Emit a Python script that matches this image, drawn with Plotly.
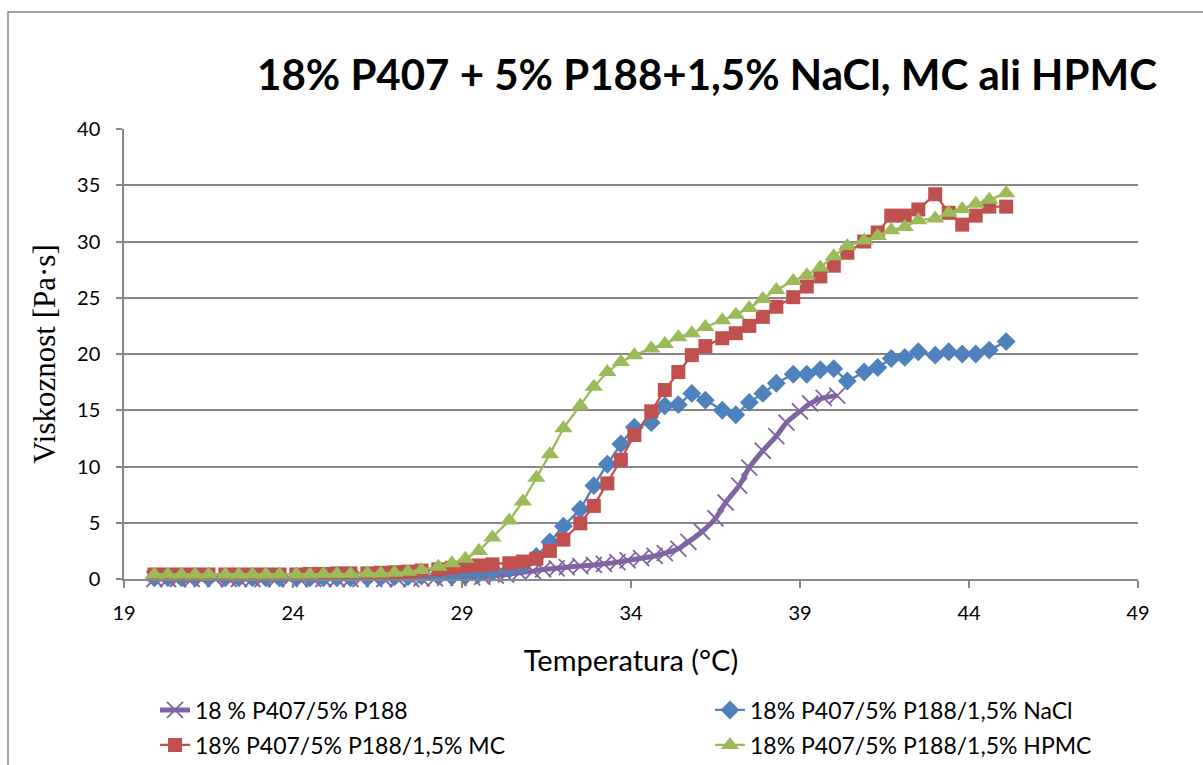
import plotly.graph_objects as go

# ---------------- data ----------------
temps = [19.9, 20.3, 20.7, 21.1, 21.5, 22.0, 22.4, 22.8, 23.2, 23.6,
         24.1, 24.5, 24.9, 25.3, 25.7, 26.2, 26.6, 27.0, 27.4, 27.8,
         28.3, 28.7, 29.1, 29.5, 29.9, 30.4, 30.8, 31.2, 31.6, 32.0,
         32.5, 32.9, 33.3, 33.7, 34.1, 34.6, 35.0, 35.4, 35.8, 36.2,
         36.7, 37.1, 37.5, 37.9, 38.3, 38.8, 39.2, 39.6, 40.0, 40.4,
         40.9, 41.3, 41.7, 42.1, 42.5, 43.0, 43.4, 43.8, 44.2, 44.6,
         45.1]

temps_p188 = [19.9, 20.3, 20.6, 21.0, 21.3, 21.7, 22.1, 22.4, 22.8, 23.1,
              23.5, 23.9, 24.2, 24.6, 24.9, 25.3, 25.7, 26.0, 26.4, 26.7,
              27.1, 27.5, 27.8, 28.2, 28.5, 28.9, 29.3, 29.6, 30.0, 30.3,
              30.7, 31.1, 31.4, 31.8, 32.1, 32.5, 32.9, 33.2, 33.6, 33.9,
              34.3, 34.7, 35.0, 35.4, 35.7, 36.1, 36.5, 36.8, 37.2, 37.5,
              37.9, 38.3, 38.6, 39.0, 39.3, 39.7, 40.1]

visc_p188 = [0.0, 0.0, 0.0, 0.0, 0.0, 0.0, 0.0, 0.0, 0.0, 0.0,
             0.0, 0.0, 0.0, 0.0, 0.0, 0.0, 0.0, 0.0, 0.0, 0.0,
             0.0, 0.0, 0.05, 0.05, 0.1, 0.1, 0.15, 0.2, 0.3, 0.4,
             0.55, 0.7, 0.85, 0.95, 1.05, 1.15, 1.25, 1.35, 1.5, 1.65,
             1.85, 2.05, 2.3, 2.7, 3.3, 4.2, 5.4, 6.8, 8.3, 9.9,
             11.4, 12.7, 13.9, 14.9, 15.6, 16.1, 16.3]

visc_nacl = [0.1, 0.1, 0.1, 0.1, 0.1, 0.1, 0.1, 0.1, 0.1, 0.1,
             0.1, 0.1, 0.1, 0.1, 0.1, 0.15, 0.15, 0.2, 0.2, 0.25,
             0.25, 0.3, 0.35, 0.45, 0.6, 0.85, 1.2, 2.0, 3.3, 4.7,
             6.2, 8.3, 10.2, 12.0, 13.5, 13.9, 15.4, 15.5, 16.5, 15.9,
             15.0, 14.6, 15.7, 16.5, 17.4, 18.2, 18.2, 18.6, 18.7, 17.6,
             18.4, 18.8, 19.6, 19.7, 20.2, 19.9, 20.2, 20.0, 20.0, 20.35,
             21.1]

visc_mc = [0.4, 0.4, 0.4, 0.4, 0.4, 0.4, 0.4, 0.4, 0.4, 0.4,
           0.4, 0.45, 0.45, 0.5, 0.5, 0.5, 0.55, 0.6, 0.65, 0.75,
           0.86, 1.0, 1.15, 1.2, 1.3, 1.4, 1.55, 1.8, 2.5, 3.5,
           4.95, 6.5, 8.5, 10.6, 12.8, 14.9, 16.8, 18.4, 19.9, 20.7,
           21.4, 21.85, 22.5, 23.3, 24.2, 25.05, 26.0, 26.9, 27.85, 29.0,
           30.0, 30.8, 32.3, 32.3, 32.85, 34.2, 32.55, 31.5, 32.3, 33.1,
           33.1]

visc_hpmc = [0.4, 0.4, 0.4, 0.4, 0.4, 0.4, 0.4, 0.4, 0.4, 0.4,
             0.4, 0.4, 0.45, 0.45, 0.45, 0.5, 0.5, 0.55, 0.65, 0.8,
             1.1, 1.4, 1.8, 2.5, 3.7, 5.2, 6.9, 9.0, 11.1, 13.4,
             15.4, 17.1, 18.4, 19.3, 19.9, 20.5, 20.9, 21.5, 21.85, 22.4,
             23.0, 23.5, 24.1, 24.9, 25.7, 26.5, 27.0, 27.7, 28.7, 29.6,
             30.1, 30.5, 31.0, 31.3, 31.9, 32.05, 32.55, 32.9, 33.35, 33.7,
             34.3]

names = ["18 % P407/5% P188",
         "18% P407/5% P188/1,5% NaCl",
         "18% P407/5% P188/1,5% MC",
         "18% P407/5% P188/1,5% HPMC"]

title_text = "18% P407 + 5% P188+1,5% NaCl, MC ali HPMC"
x_title = "Temperatura (°C)"
y_title = "Viskoznost [Pa·s]"

# ---------------- figure ----------------
SANS = "Lato, 'Open Sans', sans-serif"
GRID = "#878787"

fig = go.Figure()

fig.add_trace(go.Scatter(
    x=temps_p188, y=visc_p188, name=names[0], mode="lines+markers",
    line=dict(color="#8064A2", width=5, shape="spline", smoothing=0.8),
    marker=dict(symbol="x-thin", size=16, color="#8064A2",
                line=dict(color="#8064A2", width=1.8)),
    cliponaxis=False, legend="legend", showlegend=True))

fig.add_trace(go.Scatter(
    x=temps, y=visc_nacl, name=names[1], mode="lines+markers",
    line=dict(color="#4F81BD", width=2.3),
    marker=dict(symbol="diamond", size=14.5, color="#4F81BD"),
    cliponaxis=False, legend="legend2", showlegend=True))

fig.add_trace(go.Scatter(
    x=temps, y=visc_mc, name=names[2], mode="lines+markers",
    line=dict(color="#C0504D", width=2.3),
    marker=dict(symbol="square", size=14, color="#C0504D"),
    cliponaxis=False, legend="legend3", showlegend=True))

fig.add_trace(go.Scatter(
    x=temps, y=visc_hpmc, name=names[3], mode="lines+markers",
    line=dict(color="#9BBB59", width=2.3),
    marker=dict(symbol="triangle-up", size=16, color="#9BBB59"),
    cliponaxis=False, legend="legend4", showlegend=True))

leg_common = dict(orientation="h", xanchor="left", yanchor="middle",
                  bgcolor="rgba(0,0,0,0)", visible=True,
                  font=dict(family=SANS, size=23, color="black"))

fig.update_layout(
    width=1203, height=765, showlegend=True,
    margin=dict(l=124, r=65, t=129, b=186, autoexpand=False),
    paper_bgcolor="white", plot_bgcolor="white",
    title=dict(text=title_text, x=707/1203, xanchor="center", xref="container",
               y=1 - 75/765, yanchor="middle", yref="container",
               font=dict(family=SANS, size=42, color="black", weight="bold")),
    xaxis=dict(range=[19, 49], tick0=19, dtick=5, showgrid=False,
               showline=True, linecolor=GRID, linewidth=1.5,
               ticks="outside", ticklen=7, tickcolor=GRID, tickwidth=1.5,
               ticklabelstandoff=8, zeroline=False,
               tickfont=dict(family=SANS, size=20, color="black"),
               title=dict(text=x_title, standoff=28,
                          font=dict(family=SANS, size=29, color="black"))),
    yaxis=dict(range=[0, 40], dtick=5, showgrid=True, gridcolor=GRID, gridwidth=1.5,
               showline=True, linecolor=GRID, linewidth=1.5,
               ticks="outside", ticklen=6, tickcolor=GRID, tickwidth=1.5,
               ticklabelstandoff=12, zeroline=False,
               tickfont=dict(family=SANS, size=20, color="black"),
               title=dict(text=y_title, standoff=12,
                          font=dict(family="'Liberation Serif', serif", size=31, color="black"))),
    legend=dict(x=(155 - 124) / 1014, y=(579 - 710) / 450, **leg_common),
    legend2=dict(x=(710 - 124) / 1014, y=(579 - 710) / 450, **leg_common),
    legend3=dict(x=(155 - 124) / 1014, y=(579 - 745) / 450, **leg_common),
    legend4=dict(x=(710 - 124) / 1014, y=(579 - 745) / 450, **leg_common),
    shapes=[dict(type="rect", xref="paper", yref="paper",
                 x0=(8 - 124) / 1014, x1=(1215 - 124) / 1014,
                 y0=(579 - 780) / 450, y1=(579 - 12) / 450,
                 line=dict(color="#888888", width=1.5), fillcolor="rgba(0,0,0,0)",
                 layer="below")],
)

fig.write_html("out.html")
